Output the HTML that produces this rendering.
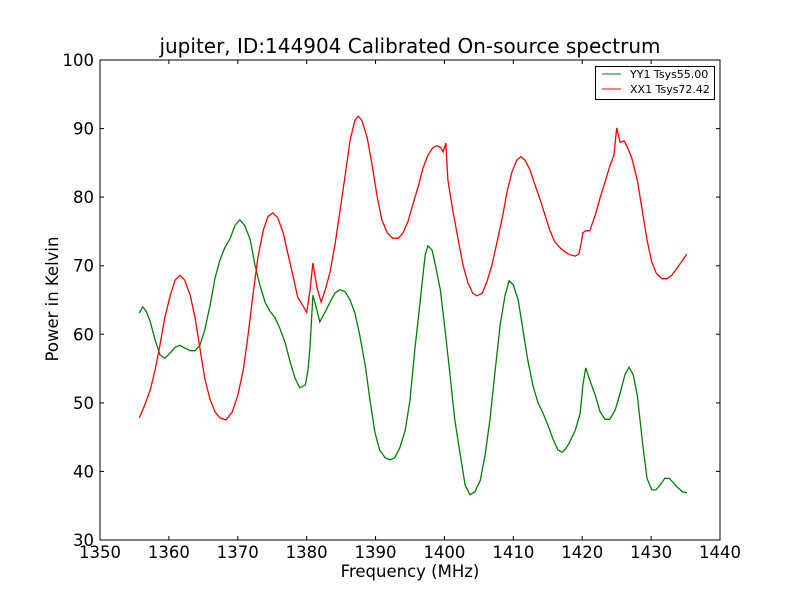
<!DOCTYPE html>
<html><head><meta charset="utf-8"><style>
body{margin:0;background:#fff}
svg{font-family:"DejaVu Sans","Liberation Sans",sans-serif}
</style></head><body>
<svg id="chart" width="800" height="600">
<rect width="800" height="600" fill="#fff"/>
<text x="410" y="53" font-size="20" text-anchor="middle">jupiter, ID:144904 Calibrated On-source spectrum</text>
<text x="410" y="577" font-size="16.5" text-anchor="middle">Frequency (MHz)</text>
<text transform="translate(58,299) rotate(-90)" font-size="16.5" text-anchor="middle">Power in Kelvin</text>
<g id="ticks"></g>
<g id="series"></g>
<rect x="100" y="60" width="620" height="480" fill="none" stroke="#000" stroke-width="1"/>
<g>
<rect x="595.5" y="66.5" width="119" height="33" fill="#fff" stroke="#000"/>
<line x1="602" y1="74" x2="621" y2="74" stroke="green"/>
<text x="630" y="78" font-size="11">YY1 Tsys55.00</text>
<line x1="602" y1="89" x2="621" y2="89" stroke="red"/>
<text x="630" y="93" font-size="11">XX1 Tsys72.42</text>
</g>
</svg>
<script>
const xTicks=[1350,1360,1370,1380,1390,1400,1410,1420,1430,1440];
const yTicks=[30,40,50,60,70,80,90,100];
const yyFreq=[1355.7,1356.2,1356.7,1357.3,1358.0,1358.7,1359.4,1360.2,1360.9,1361.6,1362.3,1363.1,1363.8,1364.5,1365.2,1366.0,1366.7,1367.4,1368.1,1368.9,1369.6,1370.3,1371.0,1371.8,1372.5,1373.2,1374.0,1374.7,1375.4,1376.1,1376.9,1377.6,1378.3,1379.0,1379.8,1380.2,1380.5,1380.9,1381.5,1381.9,1382.7,1383.4,1384.1,1384.8,1385.6,1386.3,1387.0,1387.7,1388.5,1389.2,1389.9,1390.6,1391.4,1392.1,1392.8,1393.5,1394.3,1395.0,1395.7,1396.5,1397.2,1397.6,1398.2,1398.6,1399.4,1400.1,1400.8,1401.5,1402.3,1403.0,1403.7,1404.4,1405.2,1405.9,1406.6,1407.3,1408.1,1408.8,1409.4,1410.0,1410.7,1411.4,1412.1,1412.9,1413.6,1414.3,1415.0,1415.8,1416.5,1417.1,1417.6,1418.2,1419.0,1419.7,1420.1,1420.5,1421.1,1421.9,1422.6,1423.3,1424.0,1424.8,1425.5,1426.2,1426.8,1427.4,1428.0,1428.7,1429.4,1430.1,1430.7,1431.3,1432.0,1432.6,1433.1,1433.9,1434.6,1435.2];
const yyVals=[63.1,64.0,63.4,61.8,59.2,57.0,56.5,57.3,58.1,58.4,58.0,57.6,57.6,58.4,60.6,64.3,68.2,70.8,72.6,74.0,75.9,76.7,75.9,73.8,70.1,67.2,64.6,63.3,62.4,60.9,58.7,56.0,53.6,52.2,52.6,54.8,58.4,65.7,63.5,61.8,63.3,64.7,66.0,66.5,66.2,65.0,63.1,59.9,55.5,50.4,45.7,43.1,42.0,41.7,42.0,43.4,46.0,50.4,57.7,65.0,71.6,72.9,72.3,70.5,66.5,60.6,54.1,47.5,42.4,38.0,36.6,37.0,38.7,42.4,47.5,54.1,61.4,65.7,67.8,67.2,65.0,60.6,56.2,52.3,50.0,48.5,46.8,44.6,43.1,42.8,43.3,44.3,46.0,48.5,52.6,55.1,53.3,51.1,48.7,47.6,47.6,49.0,51.4,54.1,55.2,54.1,51.1,44.6,39.0,37.3,37.3,38.0,39.0,39.0,38.5,37.6,37.0,36.9];
const xxFreq=[1355.7,1356.5,1357.3,1358.0,1358.7,1359.4,1360.2,1360.9,1361.6,1362.3,1363.1,1363.8,1364.5,1365.2,1366.0,1366.7,1367.4,1368.3,1369.2,1370.0,1370.8,1371.5,1372.2,1372.9,1373.7,1374.4,1375.1,1375.8,1376.6,1377.3,1378.0,1378.7,1379.5,1380.0,1380.5,1380.9,1381.5,1382.1,1382.7,1383.4,1384.1,1384.8,1385.6,1386.3,1387.0,1387.5,1388.0,1388.8,1389.5,1390.2,1390.9,1391.7,1392.5,1393.3,1394.0,1394.7,1395.4,1396.2,1396.9,1397.6,1398.3,1398.9,1399.5,1399.8,1400.2,1400.5,1401.2,1402.0,1402.7,1403.4,1404.1,1404.7,1405.5,1406.2,1406.9,1407.6,1408.4,1409.1,1409.8,1410.5,1411.1,1411.7,1412.4,1413.1,1413.9,1414.6,1415.3,1416.0,1416.8,1417.5,1418.2,1419.0,1419.5,1419.8,1420.1,1420.5,1421.1,1421.9,1422.6,1423.3,1424.0,1424.6,1425.0,1425.5,1426.1,1426.6,1427.2,1428.0,1428.7,1429.4,1430.1,1430.8,1431.6,1432.3,1433.0,1433.8,1434.5,1435.2];
const xxVals=[47.8,49.7,51.9,54.8,58.4,62.4,65.7,67.9,68.6,67.9,65.7,62.4,58.0,53.6,50.4,48.7,47.8,47.5,48.7,51.1,54.8,59.9,65.7,71.1,75.2,77.2,77.7,77.0,74.8,71.6,68.6,65.4,64.1,63.2,66.5,70.4,66.8,64.7,66.5,69.1,73.0,77.7,83.2,88.3,91.2,91.8,91.2,88.6,84.7,80.3,76.7,74.8,74.0,74.0,74.8,76.4,78.9,81.6,84.3,86.1,87.2,87.5,87.2,86.6,87.9,82.5,78.1,73.8,70.1,67.5,66.0,65.6,66.0,67.8,70.1,73.3,77.0,80.8,83.7,85.4,85.9,85.4,84.0,81.9,79.6,77.4,75.2,73.5,72.6,72.0,71.6,71.4,71.7,73.0,74.8,75.1,75.1,77.4,79.9,82.2,84.5,86.1,90.1,88.0,88.2,87.2,85.7,82.5,78.1,73.8,70.5,68.8,68.1,68.1,68.6,69.7,70.7,71.7];

const X0=100,X1=720,Y0=540,Y1=60;
function sx(f){return X0+(f-1350)/(1440-1350)*(X1-X0);}
function sy(v){return Y0-(v-30)/(100-30)*(Y0-Y1);}
const NS='http://www.w3.org/2000/svg';
const tg=document.getElementById('ticks');
xTicks.forEach(t=>{
  const x=sx(t);
  const l1=document.createElementNS(NS,'path');
  l1.setAttribute('d',`M${x},540V536M${x},60V64`);l1.setAttribute('stroke','#000');
  
  
  tg.appendChild(l1);
  const tx=document.createElementNS(NS,'text');
  tx.setAttribute('x',x);tx.setAttribute('y',558);tx.setAttribute('font-size','16.5');tx.setAttribute('text-anchor','middle');
  tx.textContent=t;
  
  
  tg.appendChild(tx);
});
yTicks.forEach(t=>{
  const y=sy(t);
  const l1=document.createElementNS(NS,'path');
  l1.setAttribute('d',`M100,${y}H104M720,${y}H716`);l1.setAttribute('stroke','#000');
  
  
  tg.appendChild(l1);
  const tx=document.createElementNS(NS,'text');
  tx.setAttribute('x',94);tx.setAttribute('y',y+6);tx.setAttribute('font-size','16.5');tx.setAttribute('text-anchor','end');
  tx.textContent=t;
  
  
  tg.appendChild(tx);
});
const sg=document.getElementById('series');
function line(fr,vals,color,name){
  const n=Math.min(fr.length,vals.length);
  let d='';
  for(let i=0;i<n;i++)d+=(i?'L':'M')+sx(fr[i]).toFixed(1)+','+sy(vals[i]).toFixed(1);
  const p=document.createElementNS(NS,'path');
  p.setAttribute('d',d);p.setAttribute('fill','none');p.setAttribute('stroke',color);p.setAttribute('stroke-width','1.3');
  
  
  sg.appendChild(p);
}
line(yyFreq,yyVals,'green','series-yy1');
line(xxFreq,xxVals,'red','series-xx1');
</script>
</body></html>
